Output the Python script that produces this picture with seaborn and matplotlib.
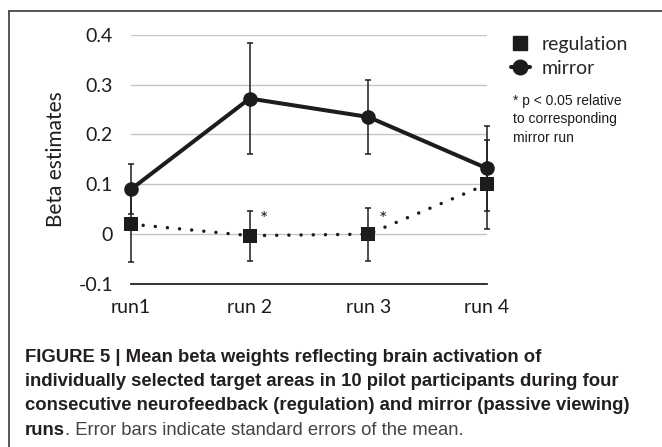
import matplotlib
matplotlib.use("Agg")
import matplotlib.pyplot as plt
from matplotlib.lines import Line2D
import numpy as np
import pandas as pd
import seaborn as sns

# data
runs = ['run1', 'run 2', 'run 3', 'run 4']
mirror = [0.09, 0.272, 0.235, 0.132]
mirror_se = [0.05, 0.112, 0.075, 0.085]
regulation = [0.02, -0.003, 0.0, 0.10]
regulation_se = [0.075, 0.05, 0.053, 0.089]
significant = [False, True, True, False]
ytick_values = [-0.1, 0, 0.1, 0.2, 0.3, 0.4]
ytick_labels = ['-0.1', '0', '0.1', '0.2', '0.3', '0.4']

sns.set_theme(style='white')
plt.rcParams['font.family'] = ['Lato', 'DejaVu Sans']

ink = '#1c1c1c'
W, H = 662, 447
fig = plt.figure(figsize=(W / 100, H / 100), dpi=100)
ax = fig.add_axes([131 / W, 1 - 284 / H, (487 - 131) / W, (284 - 34.7) / H])

df = pd.DataFrame({'pos': np.arange(len(runs)), 'mirror': mirror, 'regulation': regulation})

# error bars under the markers
ax.errorbar(df['pos'], df['mirror'], yerr=mirror_se, fmt='none', ecolor=ink,
            elinewidth=1.1, capsize=2.3, capthick=1.1, zorder=2)
ax.errorbar(df['pos'], df['regulation'], yerr=regulation_se, fmt='none', ecolor=ink,
            elinewidth=1.1, capsize=2.3, capthick=1.1, zorder=2)

sns.lineplot(data=df, x='pos', y='mirror', ax=ax, color=ink, linewidth=2.9,
             marker='o', markersize=10.5, markeredgewidth=0, markeredgecolor=ink, zorder=3)
sns.lineplot(data=df, x='pos', y='regulation', ax=ax, color=ink, linewidth=2.5,
             linestyle=(0, (0.01, 3.5)), dash_capstyle='round',
             marker='s', markersize=10, markeredgewidth=0, markeredgecolor=ink, zorder=4)

# markers and bars sit on the plot edges, so no clipping
for art in ax.lines + ax.collections:
    art.set_clip_on(False)

# significance stars
for i, (v, s) in enumerate(zip(regulation, significant)):
    if s:
        ax.text(i + 0.12, 0.03, '*', fontsize=14, color=ink, ha='center', va='center')

ax.set_xlim(0, len(runs) - 1)
ax.set_ylim(-0.1, 0.4)
ax.set_xticks(df['pos'])
ax.set_xticklabels(runs)
ax.set_yticks(ytick_values)
ax.set_yticklabels(ytick_labels)
ax.yaxis.grid(True, color='#c6c6c6', linewidth=1)
ax.xaxis.grid(False)
for side in ['top', 'right', 'left']:
    ax.spines[side].set_visible(False)
ax.spines['bottom'].set_color('#222222')
ax.spines['bottom'].set_linewidth(1.3)
ax.tick_params(axis='y', length=0, pad=13, labelsize=14, labelcolor=ink)
ax.tick_params(axis='x', length=0, pad=11, labelsize=14, labelcolor=ink)
ax.set_xlabel('')
ax.set_ylabel('Beta estimates', fontsize=15, color=ink, labelpad=9)

handles = [
    Line2D([], [], color=ink, marker='s', markersize=10.5, linestyle='none', label='regulation'),
    Line2D([], [], color=ink, marker='o', markersize=10.5, linewidth=2.9, label='mirror'),
]
fig.legend(handles=handles, loc='upper left', bbox_to_anchor=(501 / W, 1 - 26 / H),
           frameon=False, fontsize=14, handlelength=1.0, handletextpad=0.6,
           labelspacing=0.35, borderpad=0)

fig.text(513 / W, 1 - 94 / H, '* p < 0.05 relative\nto corresponding\nmirror run',
         fontsize=10, color=ink, va='top', ha='left', linespacing=1.4,
         family=['Liberation Sans Narrow', 'Liberation Sans', 'DejaVu Sans'])

# frame
fig.add_artist(Line2D([9 / W, 9 / W], [0, 1 - 11 / H], color='#3a3a3a', linewidth=1.2))
fig.add_artist(Line2D([9 / W, 1], [1 - 11 / H, 1 - 11 / H], color='#3a3a3a', linewidth=1.2))

# caption
cap_font = ['Liberation Sans', 'DejaVu Sans']
cap_size = 13.3
cap_lines = [
    'FIGURE 5 | Mean beta weights reflecting brain activation of',
    'individually selected target areas in 10 pilot participants during four',
    'consecutive neurofeedback (regulation) and mirror (passive viewing)',
]
cap_y = [357, 381.5, 406]
for line, y in zip(cap_lines, cap_y):
    fig.text(25 / W, 1 - y / H, line, fontsize=cap_size, fontweight='bold', color='#231f20',
             va='center', ha='left', family=cap_font)
t = fig.text(25 / W, 1 - 430.5 / H, 'runs', fontsize=cap_size, fontweight='bold', color='#231f20',
             va='center', ha='left', family=cap_font)
fig.canvas.draw()
bb = t.get_window_extent()
fig.text(bb.x1 / W, 1 - 430.5 / H, '. Error bars indicate standard errors of the mean.',
         fontsize=cap_size, color='#444444', va='center', ha='left', family=cap_font)

fig.savefig('out.png', dpi=100)
